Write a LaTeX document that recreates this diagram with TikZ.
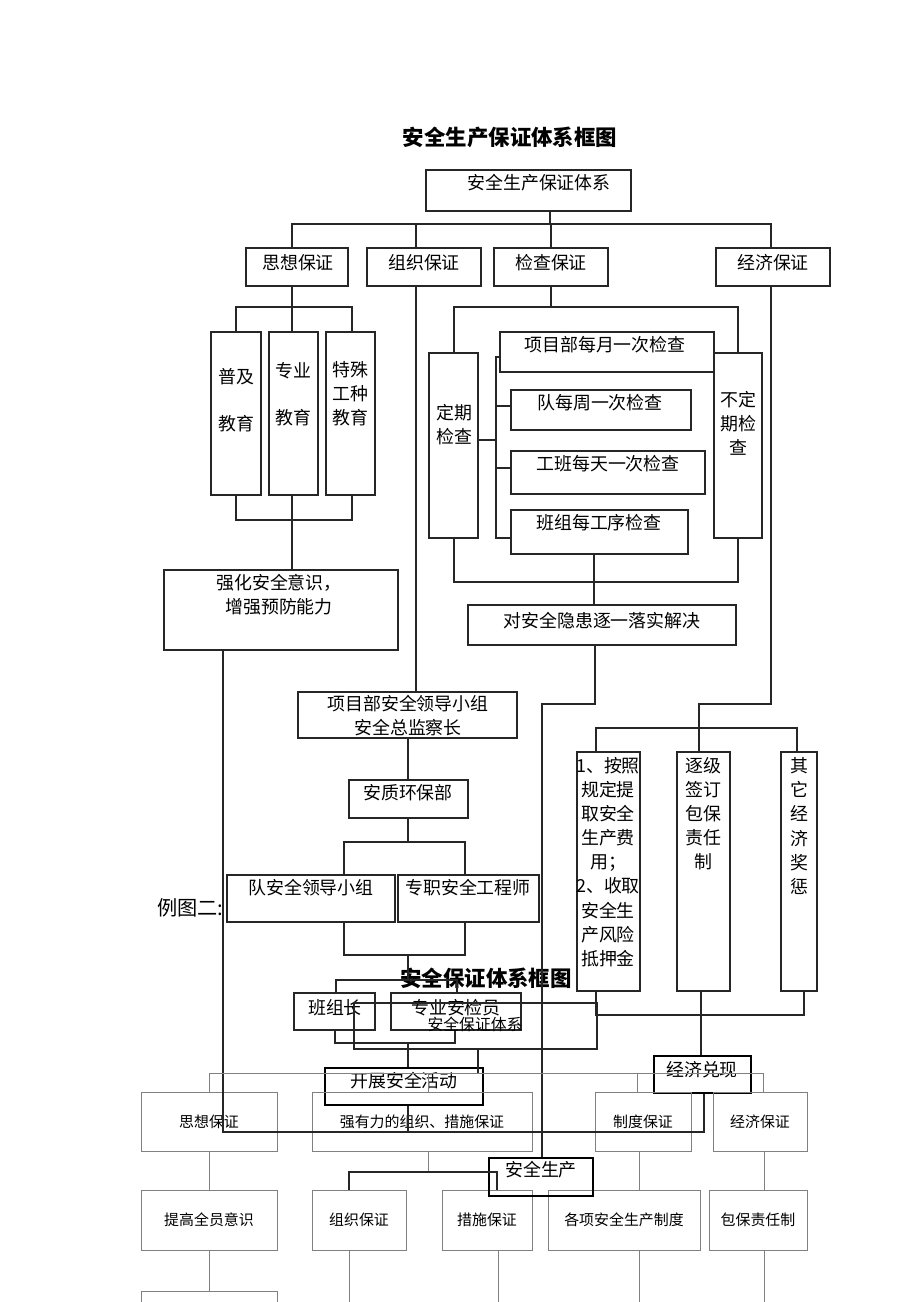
\documentclass[tikz,border=0pt]{standalone}
\usepackage{fontspec}
\setmainfont{Noto Sans CJK SC}
\tikzset{
  box/.style={draw=black!85, line width=0.6pt, inner sep=0pt},
  bbox/.style={draw=black, line width=0.9pt, inner sep=0pt},
  gbox/.style={draw=black!50, line width=0.5pt, inner sep=0pt, font=\fontsize{8.5}{10}\selectfont},
  txt/.style={inner sep=0pt, align=center, font=\fontsize{10.2}{13.7}\selectfont},
  wire/.style={draw=black!85, line width=0.6pt},
  gwire/.style={draw=black!50, line width=0.5pt},
  ttl/.style={inner sep=0pt, font=\fontsize{12.2}{14}\selectfont\bfseries}
}
\newcommand{\bx}[9][box]{%
  \node(#2) at ({(#3+#5)/2},{(#4+#6)/2})[#1, minimum width={(#5-#3)*0.2mm}, minimum height={(#6-#4)*0.2mm}] {};
  \node at (#7,#8)[txt] {#9};}
\newcommand{\gx}[6]{%
  \node(#1) at ({(#2+#4)/2},{(#3+#5)/2})[gbox, minimum width={(#4-#2)*0.2mm}, minimum height={(#5-#3)*0.2mm}] {#6};}
\begin{document}
\begin{tikzpicture}[x=0.2mm,y=-0.2mm]
\useasboundingbox (0,0) rectangle (920,1302);
\clip (0,0) rectangle (920,1302);
\node(t1) at (510,137)[ttl] {安全生产保证体系框图};
\bx{top}{426}{170}{631}{211}{539}{183}{安全生产保证体系}
\bx{sx}{246}{248}{348}{286}{298}{263}{思想保证}
\bx{zz}{367}{248}{481}{286}{424}{263}{组织保证}
\bx{jc}{494}{248}{608}{286}{551}{263}{检查保证}
\bx{jj}{716}{248}{830}{286}{773}{263}{经济保证}
\bx{pj}{211}{332}{261}{495}{236}{400}{普及\\[13.3pt]教育}
\bx{zy}{269}{332}{318}{495}{293}{394}{专业\\[13.3pt]教育}
\bx{ts}{326}{332}{375}{495}{350}{394}{特殊\\工种\\教育}
\bx{qh}{164}{570}{398}{650}{279}{595}{强化安全意识，\\增强预防能力}
\bx{dq}{429}{353}{478}{538}{454}{425}{定期\\检查}
\bx{bd}{714}{353}{762}{538}{738}{423}{不定\\期检\\查}
\bx{xm}{500}{332}{714}{372}{605}{345}{项目部每月一次检查}
\bx{dz}{511}{390}{691}{430}{600}{403}{队每周一次检查}
\bx{gb}{511}{451}{705}{494}{608}{464}{工班每天一次检查}
\bx{bz}{511}{510}{688}{554}{599}{523}{班组每工序检查}
\bx{dy}{468}{605}{736}{645}{602}{621}{对安全隐患逐一落实解决}
\bx{xl}{298}{692}{517}{738}{408}{716}{项目部安全领导小组\\安全总监察长}
\bx{az}{349}{780}{468}{818}{408}{793}{安质环保部}
\bx{dl}{227}{875}{395}{922}{311}{888}{队安全领导小组}
\bx{zg}{398}{875}{539}{922}{468}{888}{专职安全工程师}
\node(lt) at (157,908)[txt, anchor=west, font=\fontsize{11.5}{13}\selectfont] {例图二:};
\bx{fx}{577}{752}{640}{991}{608}{862}{1、按照\\规定提\\取安全\\生产费\\用；\\2、收取\\安全生\\产风险\\抵押金}
\bx{zj}{677}{752}{730}{991}{703}{814}{逐级\\签订\\包保\\责任\\制}
\bx{qt}{781}{752}{817}{991}{799}{826}{其\\它\\经\\济\\奖\\惩}
\node(t2) at (486,978)[ttl] {安全保证体系框图};
\bx{bzz}{294}{993}{375}{1030}{335}{1008}{班组长}
\bx{aj}{391}{993}{521}{1030}{456}{1008}{专业安检员}
\bx{ab}{354}{1003}{597}{1049}{475}{1024}{\fontsize{9}{11}\selectfont 安全保证体系}
\bx[bbox]{kz}{325}{1068}{483}{1105}{404}{1081}{开展安全活动}
\bx[bbox]{dx}{654}{1056}{751}{1093}{702}{1070}{经济兑现}
\gx{sx2}{141}{1092}{277}{1151}{思想保证}
\gx{qy}{312}{1092}{532}{1151}{强有力的组织、措施保证}
\gx{zd}{595}{1092}{691}{1151}{制度保证}
\gx{jj2}{713}{1092}{807}{1151}{经济保证}
\gx{tg}{141}{1190}{277}{1250}{提高全员意识}
\gx{zz2}{312}{1190}{406}{1250}{组织保证}
\gx{cs}{442}{1190}{532}{1250}{措施保证}
\gx{gx}{548}{1190}{700}{1250}{各项安全生产制度}
\gx{bb}{709}{1190}{807}{1250}{包保责任制}
\gx{nx}{141}{1291}{277}{1340}{}
\bx[bbox]{aq}{489}{1158}{593}{1196}{541}{1170}{安全生产}
% upper tree
\draw[wire] (550,0 |- top.south) -- (550,224);
\draw[wire] (sx.north -| 292,0) |- (550,224) -| (jj.north -| 771,0);
\draw[wire] (416,224) -- (zz.north -| 416,0);
\draw[wire] (551,224) -- (jc.north -| 551,0);
\draw[wire] (sx.south -| 292,0) -- (zy.north -| 292,0);
\draw[wire] (pj.north -| 236,0) |- (292,307) -| (ts.north -| 352,0);
\draw[wire] (pj.south -| 236,0) |- (292,520) -| (ts.south -| 352,0);
\draw[wire] (zy.south -| 292,0) -- (qh.north -| 292,0);
\draw[wire] (qh.south -| 223,0) |- (704,1132) -- (dx.south -| 704,0);
\draw[wire] (zz.south -| 416,0) -- (xl.north -| 416,0);
\draw[wire] (xl.south -| 408,0) -- (az.north -| 408,0);
\draw[wire] (az.south -| 408,0) -- (408,842);
\draw[wire] (dl.north -| 344,0) |- (408,842) -| (zg.north -| 465,0);
\draw[wire] (dl.south -| 344,0) |- (408,955) -| (zg.south -| 465,0);
\draw[wire] (408,955) -- (408,980);
\draw[wire] (bzz.north -| 336,0) |- (408,980) -| (aj.north -| 457,0);
\draw[wire] (bzz.south -| 335,0) |- (408,1043) -| (aj.south -| 455,0);
\draw[wire] (408,1043) -- (kz.north -| 408,0);
\draw[wire] (kz.south -| 408,0) -- (408,1132);
\draw[wire] (jc.south -| 551,0) -- (551,307);
\draw[wire] (dq.north -| 454,0) |- (551,307) -| (bd.north -| 738,0);
\draw[wire] (dq.east |- 0,440) -- (496,440);
\draw[wire] (xm.west |- 0,357) -- (496,357) -- (496,538) -- (bz.west |- 0,538);
\draw[wire] (496,406) -- (dz.west |- 0,406);
\draw[wire] (496,468) -- (gb.west |- 0,468);
\draw[wire] (dq.south -| 454,0) |- (594,582) -| (bd.south -| 738,0);
\draw[wire] (bz.south -| 594,0) -- (dy.north -| 594,0);
\draw[wire] (dy.south -| 595,0) |- (542,704) -- (aq.north -| 542,0);
\draw[wire] (jj.south -| 771,0) |- (699,704) -- (zj.north -| 699,0);
\draw[wire] (fx.north -| 596,0) |- (699,728) -| (qt.north -| 797,0);
\draw[wire] (fx.south -| 596,0) |- (701,1015) -| (qt.south -| 804,0);
\draw[wire] (zj.south -| 701,0) -- (dx.north -| 701,0);
% lower tree
\draw[wire] (ab.south -| 478,0) -- (478,1073);
\draw[gwire] (sx2.north -| 209,0) |- (478,1073) -| (jj2.north -| 763,0);
\draw[gwire] (428,1073) -- (qy.north -| 428,0);
\draw[gwire] (637,1073) -- (zd.north -| 637,0);
\draw[gwire] (sx2.south -| 209,0) -- (tg.north -| 209,0);
\draw[gwire] (tg.south -| 209,0) -- (nx.north -| 209,0);
\draw[gwire] (qy.south -| 428,0) -- (428,1172);
\draw[wire] (zz2.north -| 349,0) |- (428,1172) -| (cs.north -| 497,0);
\draw[gwire] (zd.south -| 639,0) -- (gx.north -| 639,0);
\draw[gwire] (jj2.south -| 764,0) -- (bb.north -| 764,0);
\draw[gwire] (zz2.south -| 349,0) -- (349,1302);
\draw[gwire] (cs.south -| 498,0) -- (498,1302);
\draw[gwire] (gx.south -| 639,0) -- (639,1302);
\draw[gwire] (bb.south -| 764,0) -- (764,1302);
\end{tikzpicture}
\end{document}
